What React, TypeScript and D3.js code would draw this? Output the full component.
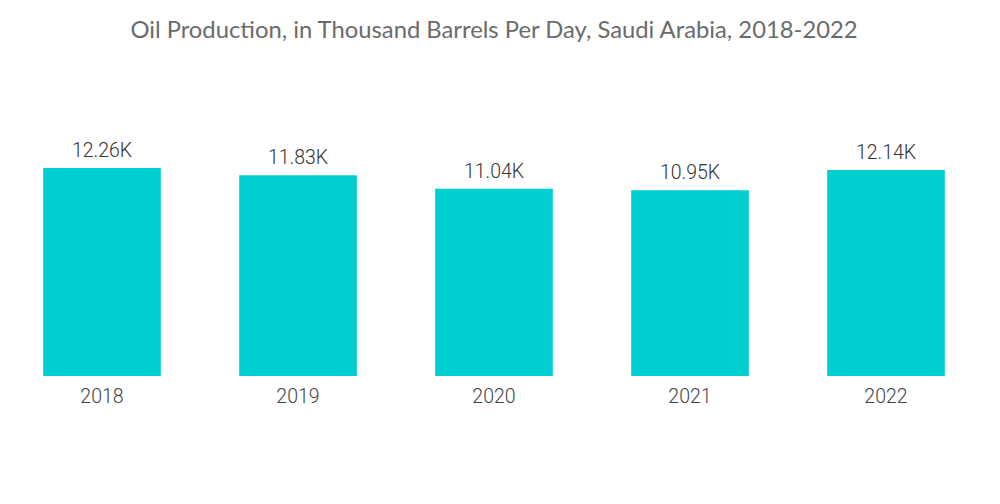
import React from "react";
import * as d3 from "d3";

const categories = ["2018", "2019", "2020", "2021", "2022"];
const values = [12.26, 11.83, 11.04, 10.95, 12.14];
const labels = ["12.26K", "11.83K", "11.04K", "10.95K", "12.14K"];
const title = "Oil Production, in Thousand Barrels Per Day, Saudi Arabia, 2018-2022";

export default function App() {
  const width = 1000;
  const height = 504;
  const x = d3
    .scaleBand<string>()
    .domain(categories)
    .range([4, 984])
    .paddingInner(0.4)
    .paddingOuter(0.2);
  const y = d3.scaleLinear().domain([0, 12.26]).range([376, 168]);
  return (
    <svg
      width={width}
      height={height}
      style={{ position: "absolute", left: 0, top: 0, background: "#fff" }}
    >
      <text
        x={494}
        y={38}
        textAnchor="middle"
        fontFamily="Lato, sans-serif"
        fontSize={23.8}
        fill="#6b6b6b"
      >
        {title}
      </text>
      {categories.map((c, i) => (
        <g key={c}>
          <rect
            x={x(c)}
            y={y(values[i])}
            width={x.bandwidth()}
            height={y(0) - y(values[i])}
            fill="#00CED1"
          />
          <text
            x={(x(c) as number) + x.bandwidth() / 2}
            y={y(values[i]) - 11}
            textAnchor="middle"
            fontFamily="Roboto, sans-serif"
            fontWeight={300}
            fontSize={19.5}
            fill="#333"
          >
            {labels[i]}
          </text>
          <text
            x={(x(c) as number) + x.bandwidth() / 2}
            y={403}
            textAnchor="middle"
            fontFamily="Roboto, sans-serif"
            fontWeight={300}
            fontSize={19.5}
            fill="#444"
          >
            {c}
          </text>
        </g>
      ))}
    </svg>
  );
}
